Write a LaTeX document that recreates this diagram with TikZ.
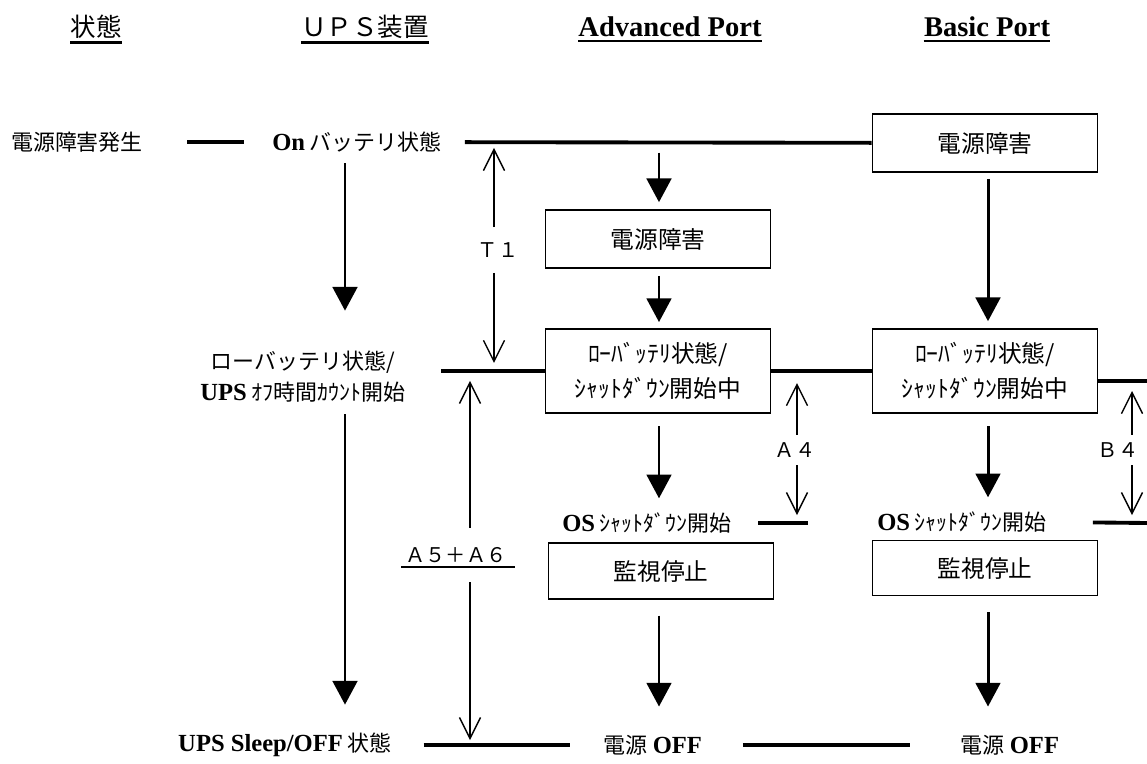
\documentclass[tikz,border=0pt]{standalone}
\usepackage{fontspec}
\setmainfont{Noto Sans CJK JP}
\newfontfamily\romanfont{Liberation Serif}[Scale=1.12]
\usetikzlibrary{arrows.meta,calc}

\begin{document}
\begin{tikzpicture}[x=0.02cm,y=-0.02cm]

        \def \rom#1{{\romanfont\bfseries #1}}

        \tikzset{
            txt/.style={inner sep=2pt,align=center},
            box/.style={draw,line width=0.9pt,minimum width=4.5cm,inner sep=0pt,align=center},
            bar/.style={line width=2.2pt},
            flow/.style={line width=1.7pt,-{Triangle[length=13.5pt,width=14pt]}},
            dim/.style={line width=0.8pt,-{Straight Barb[length=12pt,width=12pt]}},
            dimlabel/.style={inner sep=0pt,font=\fontsize{11.5}{13}\selectfont}
        }

        \fontsize{12.5}{17.5}\selectfont

        \useasboundingbox (0,0) rectangle (1147,764);

        % Draw headers
        \foreach \x/\i/\head in {96/1/状態,365/2/ＵＰＳ装置,670/3/\rom{Advanced Port},987/4/\rom{Basic Port}} {
            \node (h-\i) at (\x,27) [txt,inner xsep=0pt,font=\fontsize{14.5}{17}\selectfont] {\head};
            \draw[line width=1.4pt] (h-\i.south west) -- (h-\i.south east);
        }

        % Columns
        \coordinate (cu) at (345,0);
        \coordinate (ca) at (659,0);
        \coordinate (cb) at (988,0);

        % Draw states
        \node (fault) at (77,142) [txt] {電源障害発生};
        \node (onbat) at (357,142) [txt] {\rom{On} バッテリ状態};
        \node (upsLow) at (303,377) [txt] {ローバッテリ状態/\\\rom{UPS} ｵﾌ時間ｶｳﾝﾄ開始};
        \node (sleep) at (285,745) [txt] {\rom{UPS Sleep/OFF} 状態};

        \node (basFault) at (985,143) [box,minimum height=1.16cm,font=\fontsize{13.5}{17}\selectfont] {電源障害};
        \node (advFault) at (658,239) [box,minimum height=1.16cm,font=\fontsize{13.5}{17}\selectfont] {電源障害};
        \node (advLow) at (658,371) [box,minimum height=1.68cm,font=\fontsize{13.5}{20}\selectfont] {ﾛｰﾊﾞｯﾃﾘ状態/\\ｼｬｯﾄﾀﾞｳﾝ開始中};
        \node (basLow) at (985,371) [box,minimum height=1.68cm,font=\fontsize{13.5}{20}\selectfont] {ﾛｰﾊﾞｯﾃﾘ状態/\\ｼｬｯﾄﾀﾞｳﾝ開始中};

        \node (advOS) at (647,523) [txt] {\rom{OS} ｼｬｯﾄﾀﾞｳﾝ開始};
        \node (basOS) at (962,522) [txt] {\rom{OS} ｼｬｯﾄﾀﾞｳﾝ開始};
        \node (advStop) at (661,571) [box,minimum height=1.12cm,font=\fontsize{13.5}{17}\selectfont] {監視停止};
        \node (basStop) at (985,568) [box,minimum height=1.1cm,font=\fontsize{13.5}{17}\selectfont] {監視停止};

        \node (advOff) at (653,745) [txt] {電源 \rom{OFF}};
        \node (basOff) at (1010,745) [txt] {電源 \rom{OFF}};

        % Draw time lines
        \coordinate (advTap) at (659,142);
        \coordinate (lowEnd) at (1147,381);
        \coordinate (aFourEnd) at (808,523);
        \coordinate (bFourEnd) at (1147,523);
        \draw[bar,shorten <=23pt,shorten >=14pt] (fault) -- (onbat);
        \draw[bar,shorten <=11pt] (onbat) -- (basFault);
        \draw[bar,shorten <=18pt] (upsLow.east |- advLow.west) -- (advLow.west);
        \draw[bar] (advLow) -- (basLow);
        \draw[bar] (basLow.east |- lowEnd) -- (lowEnd);
        \draw[bar,shorten <=13pt] (advOS.east) -- (aFourEnd);
        \draw[bar,shorten <=24pt] (basOS.east) -- (bFourEnd);
        \draw[bar,shorten <=16pt,shorten >=17pt] (sleep) -- (advOff);
        \draw[bar,shorten <=21pt,shorten >=27pt] (advOff) -- (basOff);

        % Draw flow arrows
        \draw[flow,shorten <=4pt,shorten >=21pt] (onbat.south -| cu) -- (upsLow.north -| cu);
        \draw[flow,shorten <=4.5pt,shorten >=14pt] (upsLow.south -| cu) -- (sleep.north -| cu);
        \draw[flow,shorten <=6pt,shorten >=4pt] (advTap) -- (advFault.north -| advTap);
        \draw[flow,shorten <=4pt,shorten >=3.5pt] (advFault.south -| ca) -- (advLow.north -| ca);
        \draw[flow,shorten <=7pt,shorten >=6pt] (advLow.south -| ca) -- (advOS.north -| ca);
        \draw[flow,shorten <=9pt,shorten >=14pt] (advStop.south -| ca) -- (advOff.north -| ca);
        \draw[flow,shorten <=3.5pt,shorten >=4pt] (basFault.south -| cb) -- (basLow.north -| cb);
        \draw[flow,shorten <=7pt,shorten >=6pt] (basLow.south -| cb) -- (basOS.north -| cb);
        \draw[flow,shorten <=9pt,shorten >=14pt] (basStop.south -| cb) -- (basOff.north -| cb);

        % Draw time spans
        \coordinate (tTop) at (494,142);
        \coordinate (tBot) at (494,373);
        \node (tLab) at (498,250) [dimlabel,minimum height=0.9cm] {Ｔ１};
        \draw[dim,shorten >=3.4pt] (tLab.north -| tTop) -- (tTop);
        \draw[dim,shorten >=5.7pt] (tLab.south -| tBot) -- (tBot);

        \coordinate (aTop) at (470,373);
        \coordinate (aBot) at (470,748);
        \node (aLab) at (456,555) [dimlabel,minimum height=1.08cm] {Ａ５＋Ａ６};
        \draw[line width=1.5pt] ($(aLab.west)+(-4,12)$) -- ($(aLab.east)+(8,12)$);
        \draw[dim,shorten >=4.5pt] (aLab.north -| aTop) -- (aTop);
        \draw[dim,shorten >=4.5pt] (aLab.south -| aBot) -- (aBot);

        \coordinate (a4Top) at (797,373);
        \coordinate (a4Bot) at (797,523);
        \node (a4Lab) at (795,450) [dimlabel,minimum height=0.6cm] {Ａ４};
        \draw[dim,shorten >=5.7pt] (a4Lab.north -| a4Top) -- (a4Top);
        \draw[dim,shorten >=4.5pt] (a4Lab.south -| a4Bot) -- (a4Bot);

        \coordinate (b4Top) at (1132,381);
        \coordinate (b4Bot) at (1132,523);
        \node (b4Lab) at (1118,450) [dimlabel,minimum height=0.6cm] {Ｂ４};
        \draw[dim,shorten >=5.7pt] (b4Lab.north -| b4Top) -- (b4Top);
        \draw[dim,shorten >=4.5pt] (b4Lab.south -| b4Bot) -- (b4Bot);

    \end{tikzpicture}
\end{document}
